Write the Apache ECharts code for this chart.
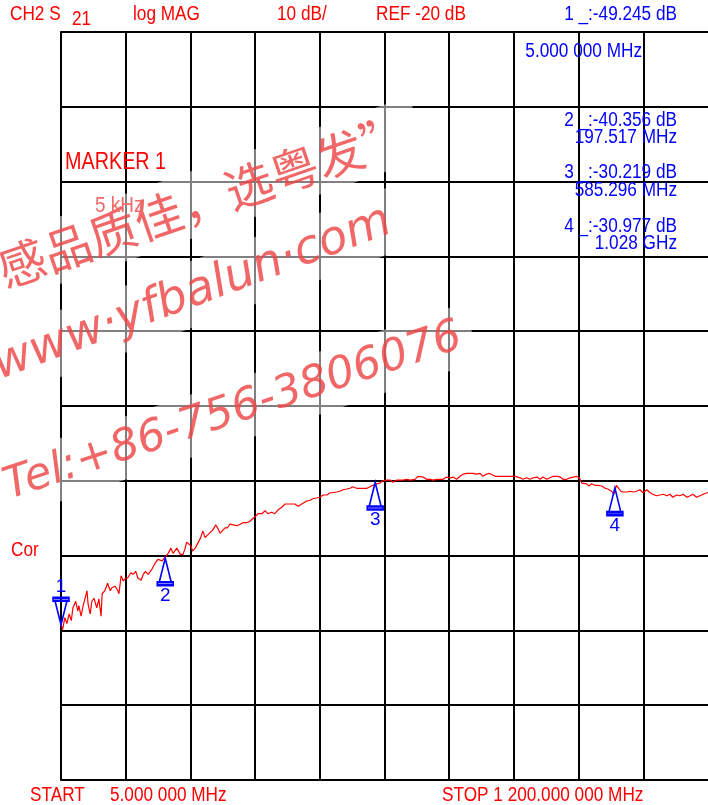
<!DOCTYPE html>
<html>
<head>
<meta charset="utf-8">
<script src="https://cdn.jsdelivr.net/npm/echarts@6/dist/echarts.min.js"></script>
<style>
html,body{margin:0;padding:0;background:#fff;}
#chart{width:708px;height:805px;}
</style>
</head>
<body>
<div id="chart"></div>
<script>
// ---- data ----
var freqMHz = [
  5,8,12,16,20,24,27,32,36,38,
  42,46,53,55,59,62,66,71,75,79,
  81,86,91,96,99,105,110,112,116,120,
  123,128,134,138,143,147,153,157,161,166,
  173,179,184,192,197,203,208,212,219,225,
  230,234,237,240,245,248,253,258,263,267,
  271,274,278,285,291,295,299,304,308,312,
  317,323,330,336,341,348,354,360,365,369,
  376,382,387,394,400,406,413,419,428,437,
  443,446,452,459,465,470,477,483,489,496,
  502,507,514,520,526,533,539,544,551,557,
  563,570,576,581,588,594,599,607,613,618,
  625,631,637,644,650,659,664,666,674,680,
  687,692,699,705,711,717,724,729,736,742,
  748,754,760,766,773,779,784,791,796,801,
  807,812,821,834,844,847,853,858,865,871,
  877,884,890,895,902,908,914,923,927,932,
  939,945,951,957,962,967,969,976,980,985,
  991,997,1004,1010,1015,1022,1026,1031,1034,1039,
  1043,1050,1056,1062,1068,1074,1080,1087,1093,1098,
  1105,1111,1117,1124,1130,1135,1142,1148,1154,1161,
  1167,1172,1179,1185,1191,1198,1200
];
var s21dB = [
  -49.2,-49.9,-48.3,-49.1,-47.8,-48.7,-47.0,-46.1,-47.4,-46.7,
  -48.1,-46.7,-44.7,-46.5,-47.8,-46.1,-45.7,-47.0,-45.8,-48.1,
  -45.1,-44.7,-43.7,-44.7,-44.3,-44.1,-44.7,-45.1,-42.7,-43.4,
  -43.1,-43.0,-42.3,-42.5,-42.1,-43.0,-43.3,-42.5,-42.1,-42.5,
  -41.8,-41.0,-40.5,-40.7,-40.2,-39.7,-39.0,-39.7,-39.0,-39.8,
  -39.9,-39.1,-38.2,-38.0,-38.7,-39.4,-39.0,-38.3,-37.6,-36.7,
  -37.6,-37.4,-37.1,-36.6,-35.9,-36.4,-37.0,-36.6,-36.3,-36.3,
  -35.8,-35.9,-36.0,-35.8,-35.6,-35.6,-35.4,-35.0,-34.7,-34.4,
  -34.4,-34.0,-34.4,-34.2,-34.4,-33.9,-33.5,-33.1,-33.1,-33.1,
  -33.4,-33.4,-33.0,-32.7,-32.6,-32.4,-32.3,-32.2,-31.9,-31.9,
  -31.6,-31.6,-31.5,-31.4,-31.2,-31.1,-31.0,-30.8,-31.0,-31.0,
  -31.0,-31.0,-30.8,-30.6,-30.4,-30.3,-30.0,-29.9,-29.9,-30.2,
  -29.9,-29.9,-29.9,-29.8,-29.9,-29.8,-29.4,-29.4,-29.5,-29.8,
  -29.8,-29.9,-29.8,-29.8,-29.8,-29.5,-29.6,-29.5,-29.8,-29.4,
  -29.1,-29.0,-29.0,-29.0,-29.1,-29.0,-29.4,-29.1,-29.0,-29.2,
  -29.4,-29.4,-29.4,-29.4,-29.4,-29.6,-29.6,-29.8,-29.6,-29.8,
  -29.6,-29.5,-29.8,-29.5,-29.8,-29.6,-29.4,-29.4,-29.5,-29.8,
  -29.8,-29.6,-29.5,-29.4,-29.6,-30.3,-30.4,-30.4,-30.7,-30.4,
  -30.6,-30.6,-30.7,-31.0,-31.1,-31.4,-31.8,-30.6,-30.7,-31.4,
  -31.5,-31.5,-31.4,-31.5,-31.4,-31.2,-31.6,-31.2,-31.6,-31.8,
  -32.0,-31.9,-31.8,-32.0,-31.8,-32.2,-31.9,-32.0,-31.8,-32.2,
  -32.0,-31.8,-32.2,-32.0,-31.8,-31.6,-31.6
];
var markerNames = ['1','2','3','4'];
var markerFreqMHz = [5.0, 197.517, 585.296, 1028.0];
var markerDB = [-49.245, -40.356, -30.219, -30.977];
var markerReadouts = ['1 _:-49.245 dB','2 _:-40.356 dB','3 _:-30.219 dB','4 _:-30.977 dB'];
var markerFreqText = ['5.000 000 MHz','197.517 MHz','585.296 MHz','1.028 GHz'];
var headerTexts = ['CH2 S','21','log MAG','10 dB/','REF -20 dB'];
var startText = ['START','5.000 000 MHz'];
var stopText = 'STOP 1 200.000 000 MHz';
var sideTexts = ['MARKER 1','5 kHz','Cor'];
var watermarkTexts = ['感品质佳，选粤发”','www·yfbalun·com','Tel:+86-756-3806076'];
var yMin = -70, yMax = 30, yStep = 10;
var fStart = 5, fStop = 1200, xDivs = 10;

// ---- build ----
var traceData = freqMHz.map(function (f, i) { return [f, s21dB[i]]; });

var RED = '#ff0000', BLUE = '#0000ff';
var FONT = "'Liberation Sans',Arial,sans-serif";
var SX = 0.86; // condensed look of the analyzer font

var upPath = 'path://M8 0 L14 24 L2 24 Z M0 24 L16 24 L16 27 L0 27 Z';
var downPath = 'path://M0 0 L16 0 L16 3 L0 3 Z M2 3 L14 3 L8 27 Z';

var markData = markerNames.map(function (n, i) {
  var active = (i === 0);
  return {
    name: n,
    coord: [markerFreqMHz[i], markerDB[i]],
    symbol: active ? downPath : upPath,
    symbolSize: [16, 27],
    symbolOffset: [0, active ? -13.5 : 13.5],
    itemStyle: { color: 'rgba(0,0,0,0)', borderColor: BLUE, borderWidth: 2 },
    label: {
      show: true, formatter: n, color: BLUE, fontSize: 19, fontFamily: FONT,
      position: active ? 'top' : 'bottom', distance: 0
    }
  };
});

function txt(text, x, y, color, size, align) {
  return {
    type: 'text', x: x, y: y, z: 20, scaleX: SX, silent: true,
    style: { text: text, fill: color, fontSize: size, fontFamily: FONT,
             align: align || 'left', verticalAlign: 'middle' }
  };
}
function wm(text, x, y, deg, size, fam, italic) {
  return {
    type: 'text', x: x, y: y, rotation: deg * Math.PI / 180, z: 1, silent: true,
    style: {
      text: text, fill: 'rgba(238,70,70,0.82)', fontSize: size,
      fontFamily: fam, fontStyle: italic ? 'italic' : 'normal',
      align: 'left', verticalAlign: 'middle',
      backgroundColor: 'rgba(255,255,255,0.5)', padding: [8, 12]
    }
  };
}

var graphics = [
  wm(watermarkTexts[0], -12, 275, 19, 48, "'Noto Sans CJK SC',sans-serif", false),
  wm(watermarkTexts[1], -16, 372, 20.5, 47, "'DejaVu Sans',sans-serif", true),
  wm(watermarkTexts[2], -6, 492, 18.5, 44, "'DejaVu Sans',sans-serif", true),
  txt(headerTexts[0], 10, 14, RED, 20),
  txt(headerTexts[1], 72, 19, RED, 20),
  txt(headerTexts[2], 133, 14, RED, 20),
  txt(headerTexts[3], 277, 14, RED, 20),
  txt(headerTexts[4], 376, 14, RED, 20),
  txt(markerReadouts[0], 677, 14, BLUE, 20, 'right'),
  txt(markerFreqText[0], 642, 51, BLUE, 20, 'right'),
  txt(markerReadouts[1], 677, 120, BLUE, 20, 'right'),
  txt(markerFreqText[1], 677, 137, BLUE, 20, 'right'),
  txt(markerReadouts[2], 677, 172, BLUE, 20, 'right'),
  txt(markerFreqText[2], 677, 190, BLUE, 20, 'right'),
  txt(markerReadouts[3], 677, 226, BLUE, 20, 'right'),
  txt(markerFreqText[3], 677, 243, BLUE, 20, 'right'),
  txt(sideTexts[0], 65, 163, RED, 23),
  txt(sideTexts[1], 95, 206, '#f06a6a', 22),
  txt(sideTexts[2], 11, 550, RED, 20),
  txt(startText[0], 30, 795, RED, 20),
  txt(startText[1], 110, 795, RED, 20),
  txt(stopText, 442, 795, RED, 20)
];

var chart = echarts.init(document.getElementById('chart'), null, { renderer: 'canvas' });
chart.setOption({
  animation: false,
  backgroundColor: '#ffffff',
  grid: { left: 61, top: 32, width: 647, height: 748, show: false },
  xAxis: [
    { type: 'value', min: fStart, max: fStop, show: false, gridIndex: 0, position: 'bottom' },
    { type: 'value', min: 0, max: xDivs, interval: 1, gridIndex: 0, position: 'top',
      axisLine: { show: false }, axisTick: { show: false }, axisLabel: { show: false },
      splitLine: { show: true, showMinLine: true, showMaxLine: false,
                   lineStyle: { color: '#000', width: 2 } } }
  ],
  yAxis: {
    type: 'value', min: yMin, max: yMax, interval: yStep,
    axisLine: { show: true, lineStyle: { color: '#000', width: 2 } },
    axisTick: { show: false }, axisLabel: { show: false },
    splitLine: { show: true, showMinLine: true, showMaxLine: true,
                 lineStyle: { color: '#000', width: 2 } }
  },
  series: [{
    type: 'line', xAxisIndex: 0, yAxisIndex: 0, z: 5,
    data: traceData, showSymbol: false, symbol: 'none',
    lineStyle: { color: RED, width: 1.2 },
    markPoint: { data: markData, animation: false, z: 6 }
  }],
  graphic: graphics
});
</script>
</body>
</html>
